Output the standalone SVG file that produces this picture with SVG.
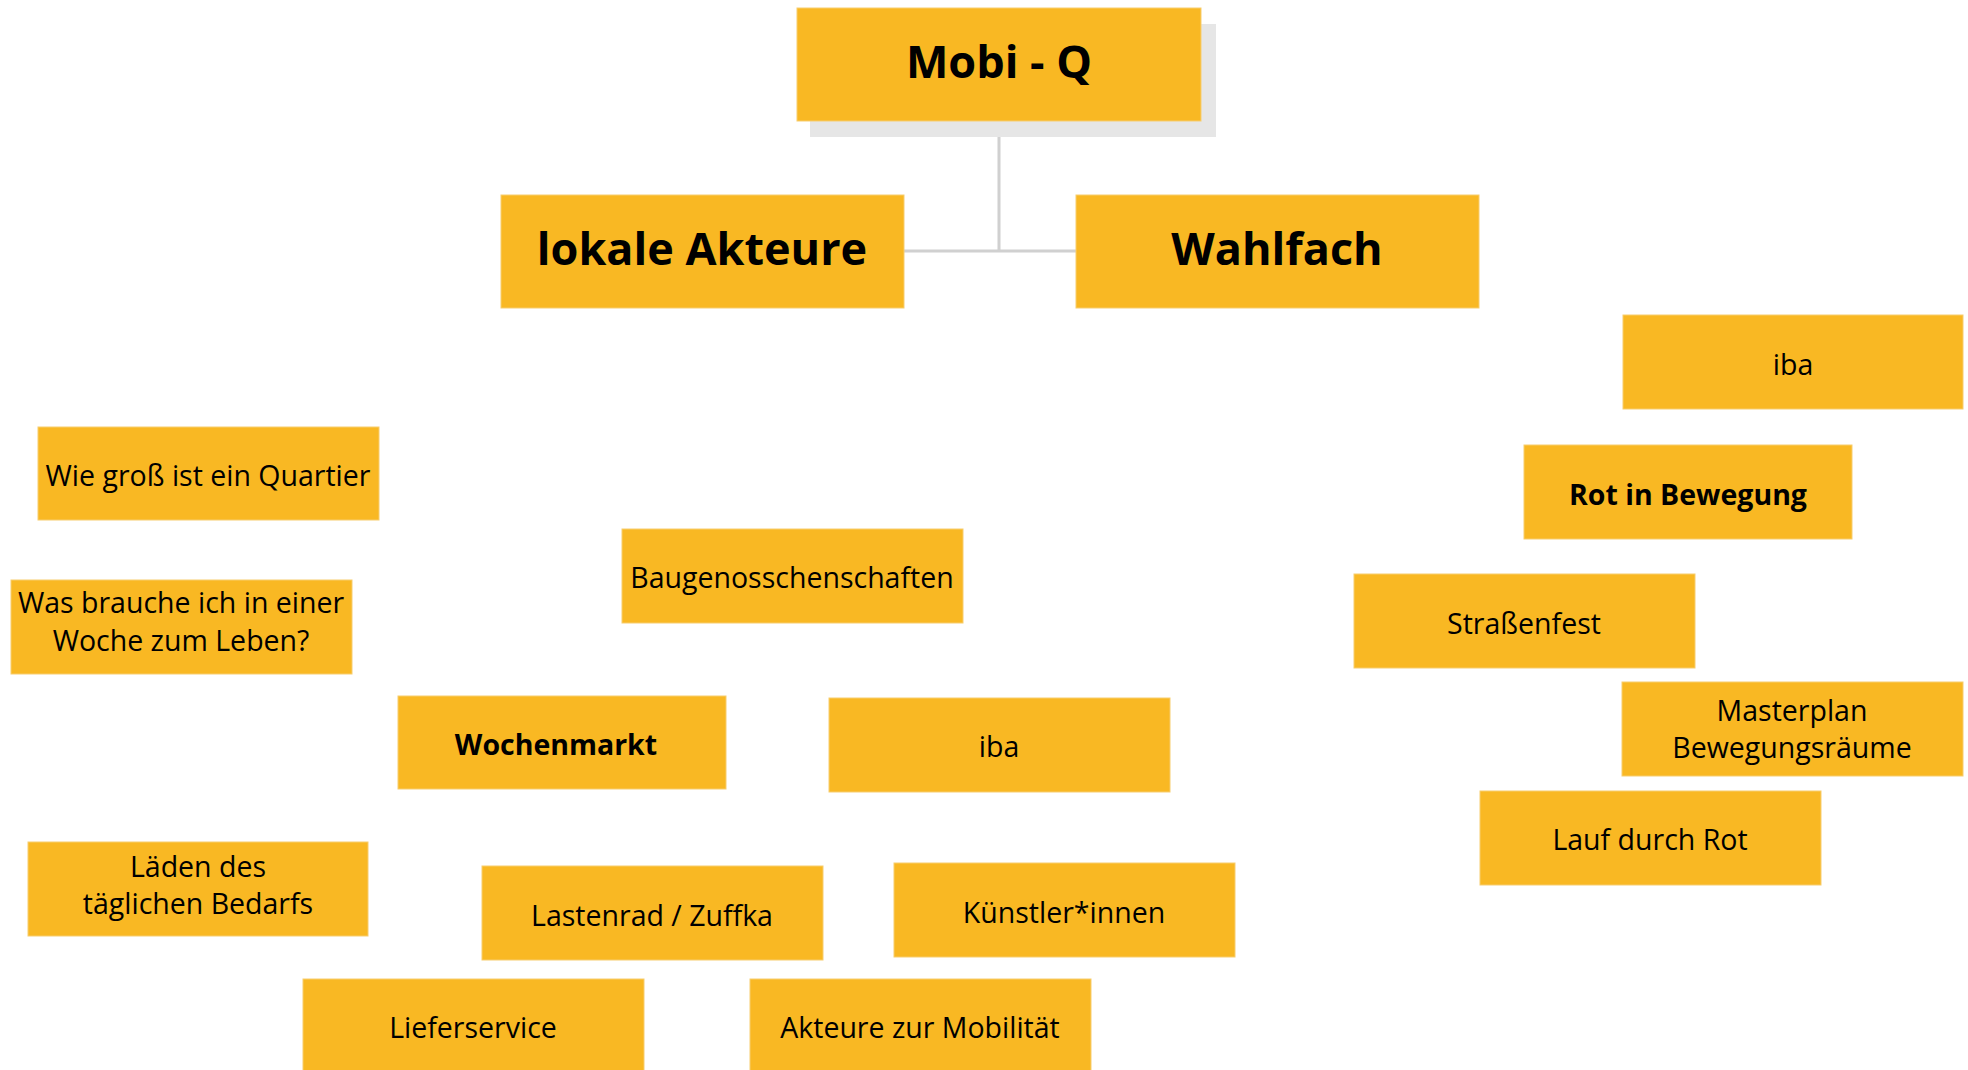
<svg xmlns="http://www.w3.org/2000/svg" width="1968" height="1070" viewBox="0 0 1968 1070">
<style>
.box{fill:#F9B823;stroke:#F7CD6E;stroke-width:1}
.sh{fill:#E6E6E6}
.t{font-family:"Open Sans","Liberation Sans",sans-serif;font-size:28.5px;fill:#000;text-anchor:middle}
.b{font-weight:bold;font-size:28.5px}
.big{font-family:"Open Sans","Liberation Sans",sans-serif;font-size:45px;font-weight:bold;fill:#000;text-anchor:middle}
.con{stroke:#D0D0D0;stroke-width:3;fill:none}
</style>
<rect width="1968" height="1070" fill="#FFFFFF"/>
<g id="connectors">
<path class="con" d="M999 121 V251 M904 251 H1076"/>
</g>
<g id="mobi-q">
<rect class="sh" x="810" y="24" width="406" height="113"/>
<rect class="box" x="797" y="8" width="404" height="113"/>
<text class="big" x="999" y="78">Mobi - Q</text>
</g>
<g id="lokale-akteure">
<rect class="box" x="501" y="195" width="403" height="113"/>
<text class="big" x="702" y="265">lokale Akteure</text>
</g>
<g id="wahlfach">
<rect class="box" x="1076" y="195" width="403" height="113"/>
<text class="big" x="1277" y="265">Wahlfach</text>
</g>
<g id="iba-right">
<rect class="box" x="1623" y="315" width="340" height="94"/>
<text class="t" x="1793" y="375">iba</text>
</g>
<g id="wie-gross">
<rect class="box" x="38" y="427" width="341" height="93"/>
<text class="t" x="208" y="486">Wie groß ist ein Quartier</text>
</g>
<g id="rot-in-bewegung">
<rect class="box" x="1524" y="445" width="328" height="94"/>
<text class="t b" x="1688" y="505">Rot in Bewegung</text>
</g>
<g id="baugenossenschaften">
<rect class="box" x="622" y="529" width="341" height="94"/>
<text class="t" x="792" y="588">Baugenosschenschaften</text>
</g>
<g id="strassenfest">
<rect class="box" x="1354" y="574" width="341" height="94"/>
<text class="t" x="1524" y="634">Straßenfest</text>
</g>
<g id="was-brauche">
<rect class="box" x="11" y="580" width="341" height="94"/>
<text class="t" x="181" y="613">Was brauche ich in einer</text>
<text class="t" x="181" y="651">Woche zum Leben?</text>
</g>
<g id="masterplan">
<rect class="box" x="1622" y="682" width="341" height="94"/>
<text class="t" x="1792" y="721">Masterplan</text>
<text class="t" x="1792" y="758">Bewegungsräume</text>
</g>
<g id="wochenmarkt">
<rect class="box" x="398" y="696" width="328" height="93"/>
<text class="t b" x="556" y="755">Wochenmarkt</text>
</g>
<g id="iba-mid">
<rect class="box" x="829" y="698" width="341" height="94"/>
<text class="t" x="999" y="757">iba</text>
</g>
<g id="lauf-durch-rot">
<rect class="box" x="1480" y="791" width="341" height="94"/>
<text class="t" x="1650" y="850">Lauf durch Rot</text>
</g>
<g id="laeden">
<rect class="box" x="28" y="842" width="340" height="94"/>
<text class="t" x="198" y="877">Läden des</text>
<text class="t" x="198" y="914">täglichen Bedarfs</text>
</g>
<g id="lastenrad">
<rect class="box" x="482" y="866" width="341" height="94"/>
<text class="t" x="652" y="926">Lastenrad / Zuffka</text>
</g>
<g id="kuenstler">
<rect class="box" x="894" y="863" width="341" height="94"/>
<text class="t" x="1064" y="923">Künstler*innen</text>
</g>
<g id="lieferservice">
<rect class="box" x="303" y="979" width="341" height="94"/>
<text class="t" x="473" y="1038">Lieferservice</text>
</g>
<g id="akteure-mobilitaet">
<rect class="box" x="750" y="979" width="341" height="94"/>
<text class="t" x="920" y="1038">Akteure zur Mobilität</text>
</g>
</svg>
